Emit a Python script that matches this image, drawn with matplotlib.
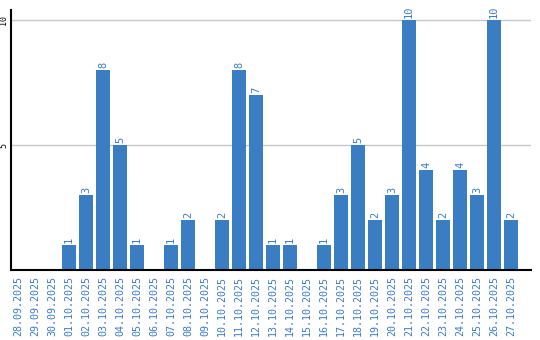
import numpy as np
import matplotlib
matplotlib.use("Agg")
import matplotlib.pyplot as plt

#dates on the x axis
dates=["28.09.2025","29.09.2025","30.09.2025","01.10.2025","02.10.2025","03.10.2025",
       "04.10.2025","05.10.2025","06.10.2025","07.10.2025","08.10.2025","09.10.2025",
       "10.10.2025","11.10.2025","12.10.2025","13.10.2025","14.10.2025","15.10.2025",
       "16.10.2025","17.10.2025","18.10.2025","19.10.2025","20.10.2025","21.10.2025",
       "22.10.2025","23.10.2025","24.10.2025","25.10.2025","26.10.2025","27.10.2025"]
#count per day
counts=[0,0,0,1,3,8,5,1,0,1,2,0,2,8,7,1,1,0,1,3,5,2,3,10,4,2,4,3,10,2]
yticks=[5,10]

bar_color="#3b7dc3"
text_color="#3a7bc8"

fig=plt.figure(figsize=(5.4,3.4),dpi=100)
ax=fig.add_axes([11/540,70/340,520/540,260/340])

x=np.arange(len(dates))
ax.bar(x,counts,width=14/17,color=bar_color,zorder=2)
#value labels above bars
for xi,c in zip(x,counts):
    if c>0:
        ax.text(xi,c+0.08,str(c),rotation=90,ha="center",va="bottom",
                color=text_color,fontsize=7.5,family="DejaVu Sans Mono")

ax.set_xlim(-7/17,513/17)
ax.set_ylim(0,10.4)
ax.set_yticks(yticks)
ax.set_yticklabels([str(t) for t in yticks],rotation=90,va="center",
                   fontsize=6,family="DejaVu Sans Mono")
ax.yaxis.grid(True,color="#c8c8c8",linewidth=1,zorder=0)
ax.set_axisbelow(True)
ax.tick_params(axis="y",length=0,pad=2)
ax.set_xticks(x)
ax.set_xticklabels(dates,rotation=90,color=text_color,fontsize=7.2,
                   family="DejaVu Sans Mono")
ax.tick_params(axis="x",length=0,pad=4)
ax.spines["top"].set_visible(False)
ax.spines["right"].set_visible(False)
ax.spines["left"].set_linewidth(1.5)
ax.spines["bottom"].set_linewidth(1.5)

fig.savefig("out.png",dpi=100)
